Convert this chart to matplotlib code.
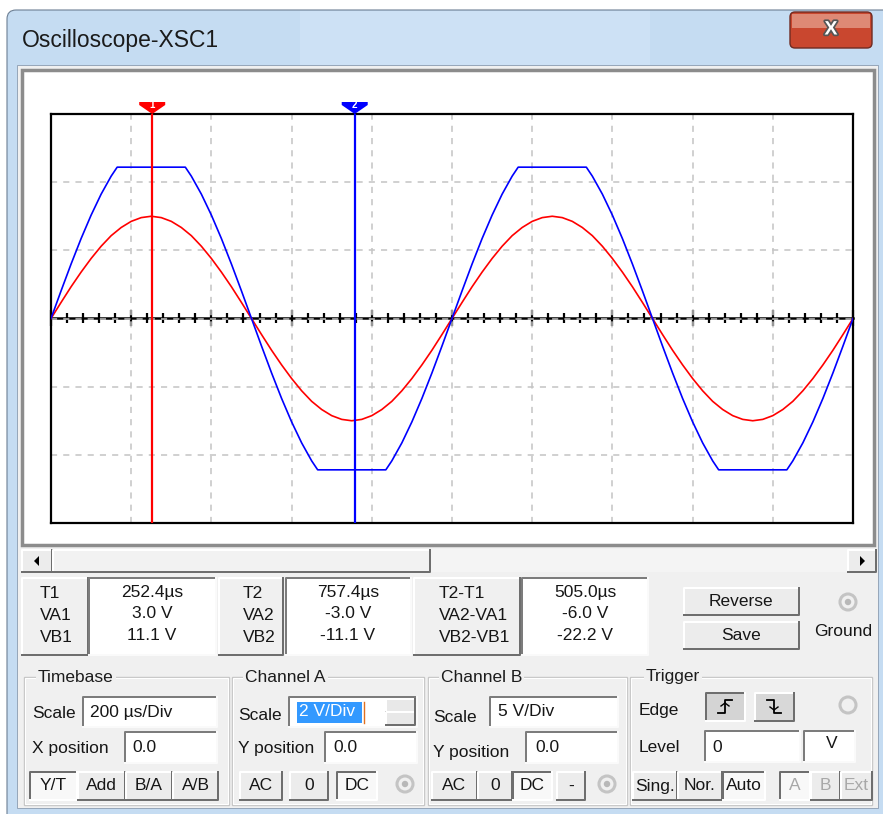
import matplotlib
matplotlib.use('Agg')
import matplotlib.pyplot as plt
import matplotlib.transforms as mtrans
import matplotlib.patheffects as pe
from matplotlib.patches import Rectangle, FancyBboxPatch, Circle, Polygon
import numpy as np

plt.rcParams['font.family'] = ['Liberation Sans', 'DejaVu Sans']

# ---- scope settings ----
timebase = 200      # us/Div
cha_scale = 2       # V/Div
chb_scale = 5       # V/Div
n_xdiv = 10
n_ydiv = 6

# ---- channel A (red), us / V ----
time_a = [0, 25, 50, 75, 100, 125, 150, 175, 200, 225, 250, 275, 300, 325, 350, 375, 400, 425, 450, 475,
          500, 525, 550, 575, 600, 625, 650, 675, 700, 725, 750, 775, 800, 825, 850, 875, 900, 925, 950, 975,
          1000, 1025, 1050, 1075, 1100, 1125, 1150, 1175, 1200, 1225, 1250, 1275, 1300, 1325, 1350, 1375,
          1400, 1425, 1450, 1475, 1500, 1525, 1550, 1575, 1600, 1625, 1650, 1675, 1700, 1725, 1750, 1775,
          1800, 1825, 1850, 1875, 1900, 1925, 1950, 1975, 2000]
volt_a = [0, 0.47, 0.93, 1.36, 1.76, 2.12, 2.43, 2.67, 2.85, 2.96, 3.0, 2.96, 2.85, 2.67, 2.43, 2.12, 1.76, 1.36, 0.93, 0.47,
          0, -0.47, -0.93, -1.36, -1.76, -2.12, -2.43, -2.67, -2.85, -2.96, -3.0, -2.96, -2.85, -2.67, -2.43, -2.12,
          -1.76, -1.36, -0.93, -0.47,
          0, 0.47, 0.93, 1.36, 1.76, 2.12, 2.43, 2.67, 2.85, 2.96, 3.0, 2.96, 2.85, 2.67, 2.43, 2.12, 1.76, 1.36, 0.93, 0.47,
          0, -0.47, -0.93, -1.36, -1.76, -2.12, -2.43, -2.67, -2.85, -2.96, -3.0, -2.96, -2.85, -2.67, -2.43, -2.12,
          -1.76, -1.36, -0.93, -0.47, 0]

# ---- channel B (blue, clipped at +-11.1 V) ----
time_b = [0, 25, 50, 75, 100, 125, 150, 165, 335, 350, 375, 400, 425, 450, 475,
          500, 525, 550, 575, 600, 625, 650, 665, 835, 850, 875, 900, 925, 950, 975,
          1000, 1025, 1050, 1075, 1100, 1125, 1150, 1165, 1335, 1350, 1375, 1400, 1425, 1450, 1475,
          1500, 1525, 1550, 1575, 1600, 1625, 1650, 1665, 1835, 1850, 1875, 1900, 1925, 1950, 1975, 2000]
volt_b = [0, 2.02, 3.99, 5.86, 7.58, 9.12, 10.44, 11.1, 11.1, 10.44, 9.12, 7.58, 5.86, 3.99, 2.02,
          0, -2.02, -3.99, -5.86, -7.58, -9.12, -10.44, -11.1, -11.1, -10.44, -9.12, -7.58, -5.86, -3.99, -2.02,
          0, 2.02, 3.99, 5.86, 7.58, 9.12, 10.44, 11.1, 11.1, 10.44, 9.12, 7.58, 5.86, 3.99, 2.02,
          0, -2.02, -3.99, -5.86, -7.58, -9.12, -10.44, -11.1, -11.1, -10.44, -9.12, -7.58, -5.86, -3.99, -2.02, 0]

cursor_t = [252.4, 757.4]
cursor_names = ['1', '2']

readout_heads = [['T1', 'VA1', 'VB1'],
                 ['T2', 'VA2', 'VB2'],
                 ['T2-T1', 'VA2-VA1', 'VB2-VB1']]
readout_vals = [['252.4µs', '3.0 V', '11.1 V'],
                ['757.4µs', '-3.0 V', '-11.1 V'],
                ['505.0µs', '-6.0 V', '-22.2 V']]

PX = 0.72
FACE = '#f0f0f0'
TXT = '#161616'

fig = plt.figure(figsize=(8.83, 8.14), dpi=100)
fig.patch.set_facecolor('white')
bg = fig.add_axes([0, 0, 1, 1])
bg.set_xlim(0, 883)
bg.set_ylim(814, 0)
bg.axis('off')


def box(x0, y0, x1, y1, face, tl=None, br=None, lw=2):
    bg.add_patch(Rectangle((x0, y0), x1 - x0, y1 - y0, fc=face, ec='none'))
    if tl:
        bg.plot([x0, x0, x1], [y1, y0, y0], color=tl, lw=lw * PX)
    if br:
        bg.plot([x0, x1, x1], [y1, y1, y0], color=br, lw=lw * PX)


def raised(x0, y0, x1, y1, face='#ececec'):
    box(x0, y0, x1, y1, face, 'white', '#6e6e6e')


def pressed(x0, y0, x1, y1):
    box(x0, y0, x1, y1, '#f8f8f8', '#6e6e6e', 'white')


def field(x0, y0, x1, y1):
    box(x0, y0, x1, y1, 'white', '#7c7c7c', '#fafafa')


def txt(x, y, s, ha='left', size=12.5, color=TXT, **kw):
    bg.text(x, y, s, ha=ha, va='center', fontsize=size, color=color, **kw)


def group(x0, y0, x1, y1, title, tx):
    bg.add_patch(Rectangle((x0, y0), x1 - x0, y1 - y0, fc='none', ec='#c6c6c6', lw=1.0))
    bg.add_patch(Rectangle((x0 + 1, y0 + 1), x1 - x0 - 2, y1 - y0 - 2, fc='none', ec='white', lw=0.8))
    bg.text(tx, y0, title, ha='left', va='center', fontsize=12.5, color='#1c1c1c',
            bbox=dict(fc=FACE, ec='none', pad=1.5))


def radio(x, y, dot=True):
    bg.add_patch(Circle((x, y), 8, fc='none', ec='#c4c4c4', lw=2.2))
    if dot:
        bg.add_patch(Circle((x, y), 3.2, fc='#b8b8b8', ec='none'))


# ---- window frame ----
bg.add_patch(FancyBboxPatch((7, 10), 900, 900, boxstyle='round,pad=0,rounding_size=9',
                            fc='#c5dcf2', ec='#6d7f94', lw=0.8))
bg.add_patch(Rectangle((300, 11), 350, 54, fc='#d3e6f8', ec='none', alpha=0.6))
bg.add_patch(Rectangle((17, 65), 861, 743, fc=FACE, ec='#8a9bb0', lw=0.6))
txt(22, 40, 'Oscilloscope-XSC1', size=16.5, color='#1b1b1b')

# close button
bg.add_patch(FancyBboxPatch((790, 12), 82, 36, boxstyle='round,pad=0,rounding_size=5',
                            fc='#c9472f', ec='#6f2b22', lw=1))
bg.add_patch(Rectangle((792, 14), 78, 14, fc='#e49a88', ec='none', alpha=0.8))
bg.text(831, 30, 'X', ha='center', va='center', fontsize=14, fontweight='bold', color='white',
        path_effects=[pe.withStroke(linewidth=2.5, foreground='#555555')])

# ---- screen ----
bg.add_patch(Rectangle((22, 70), 852, 475, fc='white', ec='#8c8c8c', lw=2.5))

# scrollbar
box(22, 549, 876, 572, '#f4f4f4')
raised(22, 550, 52, 572)
bg.add_patch(Polygon([(34, 561), (39, 556), (39, 566)], fc='black'))
raised(53, 550, 430, 572, face='#f2f2f2')
raised(848, 550, 876, 572)
bg.add_patch(Polygon([(865, 561), (860, 556), (860, 566)], fc='black'))

# ---- readout ----
cells = [(22, 88, 89, 216, 40, 152), (219, 283, 286, 411, 243, 348), (414, 520, 522, 648, 439, 585)]
row_y = [593, 614, 636]
for (l0, l1, v0, v1, lx, vx), heads, vals in zip(cells, readout_heads, readout_vals):
    raised(l0, 578, l1, 655, face=FACE)
    field(v0, 578, v1, 655)
    for y, h, v in zip(row_y, heads, vals):
        txt(lx, y + 1, h)
        txt(vx, y - 1, v, ha='center')

raised(684, 588, 799, 615)
txt(741, 601, 'Reverse', ha='center')
raised(684, 622, 799, 649)
txt(741, 635, 'Save', ha='center')
radio(848, 602)
txt(843, 632, 'Ground', ha='center')

# ---- control groups ----
group(24, 677, 229, 805, 'Timebase', 38)
group(232, 677, 424, 805, 'Channel A', 245)
group(428, 677, 627, 805, 'Channel B', 441)
group(630, 677, 872, 805, 'Trigger', 646)

# timebase
txt(32, 713, 'Scale')
field(83, 697, 217, 727)
txt(90, 712, '200 µs/Div')
txt(32, 749, 'X position')
field(125, 732, 217, 763)
txt(132, 748, '0.0')
for (x0, x1), lab, st in zip([(30, 77), (78, 125), (126, 172), (173, 218)],
                             ['Y/T', 'Add', 'B/A', 'A/B'], [1, 0, 0, 0]):
    (pressed if st else raised)(x0, 772, x1, 800)
    txt((x0 + x1) / 2, 786, lab, ha='center')

# channel A
txt(238, 716, 'Scale')
field(289, 697, 417, 727)
bg.add_patch(Rectangle((297, 702), 65, 21, fc='#3399ff', ec='none'))
txt(299, 712, '2 V/Div', color='white')
bg.plot([364, 364], [702, 723], color='#e07020', lw=1)
raised(386, 699, 415, 712, face='#e8e8e8')
raised(386, 712, 415, 725, face='#e8e8e8')
txt(238, 749, 'Y position')
field(325, 732, 417, 763)
txt(333, 748, '0.0')
for (x0, x1), lab, st in zip([(240, 282), (290, 328), (337, 377)], ['AC', '0', 'DC'], [0, 0, 1]):
    (pressed if st else raised)(x0, 772, x1, 800)
    txt((x0 + x1) / 2, 786, lab, ha='center')
radio(405, 784)

# channel B
txt(433, 717, 'Scale')
field(490, 697, 618, 727)
txt(498, 712, '5 V/Div')
txt(433, 752, 'Y position')
field(526, 732, 618, 763)
txt(535, 748, '0.0')
for (x0, x1), lab, st in zip([(432, 477), (478, 512), (513, 552), (557, 585)],
                             ['AC', '0', 'DC', '-'], [0, 0, 1, 0]):
    (pressed if st else raised)(x0, 772, x1, 800)
    txt((x0 + x1) / 2, 786, lab, ha='center')
radio(607, 784)

# trigger
txt(639, 710, 'Edge')
box(706, 693, 745, 721, '#d4d4d4', '#6e6e6e', 'white')
box(755, 693, 794, 721, '#d8d8d8', 'white', '#6e6e6e')
bg.plot([718, 725, 725, 732], [713, 713, 700, 700], color='black', lw=1.3)
bg.plot([721, 725, 729], [706, 703, 706], color='black', lw=1.0)
bg.plot([767, 774, 774, 781], [700, 700, 713, 713], color='black', lw=1.3)
bg.plot([770, 774, 778], [707, 710, 707], color='black', lw=1.0)
radio(848, 705, dot=False)
txt(639, 748, 'Level')
field(705, 731, 800, 762)
txt(712, 747, '0')
field(804, 731, 855, 762)
txt(832, 743, 'V', ha='center')
for (x0, x1), lab, st in zip([(633, 677), (678, 722), (723, 765)], ['Sing.', 'Nor.', 'Auto'], [0, 0, 1]):
    (pressed if st else raised)(x0, 772, x1, 800)
    txt((x0 + x1) / 2, 786, lab, ha='center')
for (x0, x1), lab, st in zip([(780, 810), (811, 840), (841, 872)], ['A', 'B', 'Ext'], [1, 0, 0]):
    (pressed if st else raised)(x0, 772, x1, 800)
    txt((x0 + x1) / 2, 786, lab, ha='center', color='#a8a8a8')

# ---- scope plot ----
ax = fig.add_axes([51 / 883, 1 - 523 / 814, 802 / 883, 409 / 814])
ax.set_xlim(0, n_xdiv * timebase)
ax.set_ylim(-n_ydiv / 2 * cha_scale, n_ydiv / 2 * cha_scale)
ax.set_xticks(np.arange(0, n_xdiv * timebase + 1, timebase))
ax.set_yticks(np.arange(-n_ydiv / 2 * cha_scale, n_ydiv / 2 * cha_scale + 1, cha_scale))
ax.tick_params(length=0, labelbottom=False, labelleft=False)
ax.grid(True, color='#c4c4c4', lw=1.1, ls=(0, (4, 4)))
for sp in ax.spines.values():
    sp.set_linewidth(1.6)
    sp.set_color('black')
ax.plot(time_a, volt_a, color='#ff0000', lw=1.2, zorder=3)

sec = ax.secondary_xaxis(0.5)
sec.set_xticks(np.arange(0, n_xdiv * timebase + 1, timebase))
sec.set_xticks(np.arange(0, n_xdiv * timebase + 1, timebase / 5), minor=True)
sec.tick_params(which='both', direction='inout', labelbottom=False, labeltop=False,
                width=1.6, color='black')
sec.tick_params(which='major', length=11)
sec.tick_params(which='minor', length=7)
sec.set_xticklabels([])
for sp in sec.spines.values():
    sp.set_linewidth(1.8)

ax2 = ax.twinx()
ax2.set_ylim(-n_ydiv / 2 * chb_scale, n_ydiv / 2 * chb_scale)
ax2.set_axis_off()
ax2.plot(time_b, volt_b, color='#0000ff', lw=1.2)

trans = mtrans.blended_transform_factory(ax2.transData, ax2.transAxes)
half = 13 / 802 * n_xdiv * timebase
for t, name, c in zip(cursor_t, cursor_names, ['#ff0000', '#0000ff']):
    ax2.axvline(t, color=c, lw=1.6)
    top = 1 + 12 / 409
    mid = 1 + 9 / 409
    ax2.add_patch(Polygon([(t - half, top), (t + half, top), (t + half, mid), (t, 1.0), (t - half, mid)],
                          closed=True, fc=c, ec='none', transform=trans, clip_on=False))
    ax2.text(t, 1 + 8.5 / 409, name, transform=trans, ha='center', va='center', fontsize=7,
             fontweight='bold', color='white', clip_on=False)

fig.savefig('out.png', dpi=100)
